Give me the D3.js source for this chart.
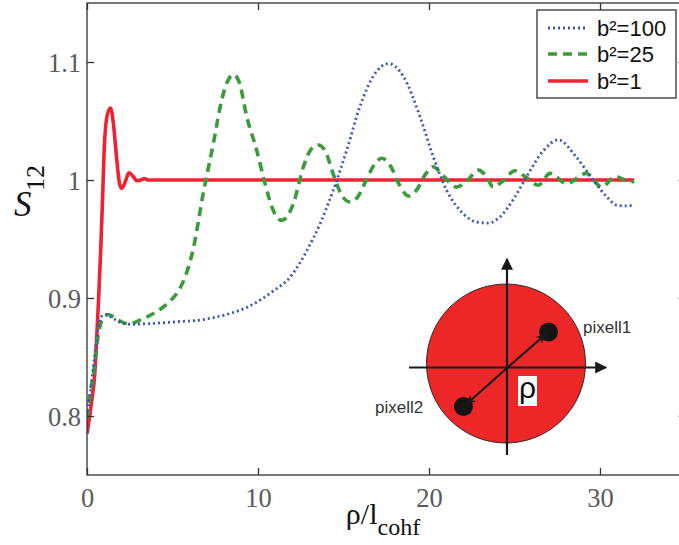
<!DOCTYPE html>
<html><head><meta charset="utf-8">
<script src="https://cdn.jsdelivr.net/npm/d3@7"></script>
<style>body{margin:0;background:#fff}svg{display:block}</style>
</head><body>
<svg id="chart" width="679" height="545"></svg>
<script>
// ---- data ----
const seriesNames = ["b\u00B2=100", "b\u00B2=25", "b\u00B2=1"];
const xTicks = [0, 10, 20, 30];
const yTicks = [0.8, 0.9, 1, 1.1];
const yTickLabels = ["0.8", "0.9", "1", "1.1"];

const rhoB100 = [0,0.18,0.4,0.66,0.9,1.1,1.5,2.0,2.6,3.9,5.34,6.7,7.39,8.4,9.34,10.1,10.9,11.87,12.85,13.63,14.4,15.19,15.96,16.74,17.62,18.5,19.47,20.25,21.03,22.0,22.8,23.47,24.1,25.0,25.7,26.7,27.56,28.6,29.6,30.4,31.0,31.5,32];
const sB100 = [0.80,0.818,0.845,0.875,0.885,0.886,0.883,0.879,0.8777,0.8785,0.880,0.8815,0.8834,0.887,0.892,0.898,0.906,0.9175,0.940,0.963,0.9913,1.0254,1.0623,1.0879,1.0987,1.0879,1.0538,1.0197,0.9913,0.9715,0.9643,0.9635,0.968,0.985,1.0027,1.025,1.034,1.0197,1.0,0.9856,0.9786,0.978,0.979];

const rhoB25 = [0,0.18,0.47,0.66,0.86,1.25,1.74,2.42,3.2,3.98,4.75,5.34,5.73,6.22,6.8,7.39,7.88,8.2,8.56,8.9,9.34,9.92,10.41,10.9,11.38,11.7,12.07,12.65,13.1,13.53,13.95,14.4,14.9,15.38,15.8,16.3,16.8,17.23,17.7,18.3,18.8,19.3,19.8,20.25,20.8,21.6,22.2,22.9,23.35,23.76,24.3,25.03,25.7,26.4,27.08,28.05,29.2,30.1,30.9,31.75,32];
const sB25 = [0.798,0.818,0.846,0.869,0.8805,0.886,0.882,0.878,0.882,0.8876,0.896,0.906,0.9175,0.942,0.989,1.031,1.068,1.083,1.0894,1.083,1.0538,1.0254,0.997,0.974,0.9658,0.969,0.980,1.011,1.026,1.0297,1.024,1.005,0.987,0.9814,0.985,0.999,1.013,1.0184,1.013,0.995,0.9865,0.992,1.005,1.0112,1.004,0.994,0.999,1.0084,1.003,0.994,0.999,1.0078,1.002,0.9956,1.0056,0.997,1.0056,0.994,1.003,0.9984,0.999];

const rhoB1 = [0,0.25,0.45,0.58,0.68,0.8,0.9,1.02,1.2,1.38,1.55,1.73,1.9,2.02,2.2,2.45,2.7,2.9,3.15,3.35,3.6,32];
const sB1 = [0.785,0.81,0.835,0.87,0.9,0.94,0.98,1.03,1.056,1.061,1.047,1.019,0.997,0.993,0.997,1.006,1.003,0.9995,1.0,1.0012,1.0,1.0];

// ---- layout ----
const svg = d3.select("#chart");
const L = 87, R = 685.5, T = 3, B = 475;
const x = d3.scaleLinear().domain([0, 35]).range([L, R]);
const y = d3.scaleLinear().domain([0.75, 1.15]).range([B, T]);

const colors = ["#3857bb", "#3b9a3b", "#ee2233"];
const dashes = ["2,3", "9,6", null];
const widths = [2.8, 3.6, 3.6];

const line = d3.line().x(d => x(d[0])).y(d => y(d[1])).curve(d3.curveMonotoneX);
const series = [
  d3.zip(rhoB100, sB100),
  d3.zip(rhoB25, sB25),
  d3.zip(rhoB1, sB1)
];

const plot = svg.append("g");
plot.append("defs").append("clipPath").attr("id","clip")
  .append("rect").attr("x",L).attr("y",T).attr("width",R-L).attr("height",B-T);
const curves = plot.append("g").attr("clip-path","url(#clip)");
[2,1,0].forEach(i => {
  curves.append("path").datum(series[i])
    .attr("d", line).attr("fill","none")
    .attr("stroke", colors[i]).attr("stroke-width", widths[i])
    .attr("stroke-dasharray", dashes[i])
    .attr("stroke-linejoin","round");
});

// frame
const axisColor = "#333";
svg.append("rect").attr("x",L).attr("y",T).attr("width",R-L).attr("height",B-T)
  .attr("fill","none").attr("stroke",axisColor).attr("stroke-width",1.3);

// axes with inward ticks
const xb = svg.append("g").attr("transform",`translate(0,${B})`)
  .call(d3.axisBottom(x).tickValues(xTicks).tickSizeInner(-7).tickSizeOuter(0).tickFormat(d3.format("d")));
const xt = svg.append("g").attr("transform",`translate(0,${T})`)
  .call(d3.axisTop(x).tickValues(xTicks).tickSizeInner(-7).tickSizeOuter(0).tickFormat(""));
const yl = svg.append("g").attr("transform",`translate(${L},0)`)
  .call(d3.axisLeft(y).tickValues(yTicks).tickSizeInner(-7).tickSizeOuter(0).tickFormat((d,i)=>yTickLabels[i]));
const yr = svg.append("g").attr("transform",`translate(${R},0)`)
  .call(d3.axisRight(y).tickValues(yTicks).tickSizeInner(-7).tickSizeOuter(0).tickFormat(""));
[xb,xt,yl,yr].forEach(g => {
  g.select(".domain").remove();
  g.selectAll(".tick line").attr("stroke",axisColor).attr("stroke-width",1.3);
  g.selectAll(".tick text").attr("fill","#5a5a5a")
    .style("font-family","'Liberation Serif','Times New Roman',serif").style("font-size","26.5px");
});
xb.selectAll(".tick text").attr("y", 13).attr("dy","0.71em");
yl.selectAll(".tick text").attr("x", -6).attr("dy","0.34em");

// axis labels
const xl = svg.append("text").attr("x", 383).attr("y", 524)
  .attr("text-anchor","middle").attr("fill","#111")
  .style("font-family","'Liberation Serif','Times New Roman',serif").style("font-size","30px");
xl.append("tspan").text("\u03C1/l");
xl.append("tspan").text("cohf").style("font-size","24px").attr("dy", 11);

// y label: upright italic S with rotated subscript
svg.append("text").attr("x", 14).attr("y", 216).text("S").attr("fill","#111")
  .style("font-family","'Liberation Serif','Times New Roman',serif")
  .style("font-style","italic").style("font-size","35px");
svg.append("text").attr("transform","translate(44,178) rotate(-90)")
  .attr("text-anchor","middle").text("12").attr("fill","#111")
  .style("font-family","'Liberation Serif','Times New Roman',serif").style("font-size","26px");

// legend
const lg = svg.append("g");
lg.append("rect").attr("x",537).attr("y",10).attr("width",139).attr("height",88)
  .attr("fill","#fff").attr("stroke",axisColor).attr("stroke-width",1.3);
const rowsY = [28, 54, 81];
seriesNames.forEach((n,i) => {
  lg.append("line").attr("x1",548).attr("x2",588).attr("y1",rowsY[i]).attr("y2",rowsY[i])
    .attr("stroke",colors[i]).attr("stroke-width",widths[i]).attr("stroke-dasharray",dashes[i]);
  lg.append("text").attr("x",597).attr("y",rowsY[i]+8).text(n).attr("fill","#111")
    .style("font-family","'Liberation Sans',Arial,sans-serif").style("font-size","22px");
});

// inset diagram
const ins = svg.append("g");
const defs = svg.append("defs");
defs.append("marker").attr("id","tri").attr("viewBox","0 0 10 10").attr("refX",9).attr("refY",5)
  .attr("markerWidth",14).attr("markerHeight",12).attr("markerUnits","userSpaceOnUse").attr("orient","auto")
  .append("path").attr("d","M0,0 L10,5 L0,10 Z").attr("fill","#1a1a1a");
defs.append("marker").attr("id","vee").attr("viewBox","0 0 10 10").attr("refX",9).attr("refY",5)
  .attr("markerWidth",11).attr("markerHeight",11).attr("markerUnits","userSpaceOnUse").attr("orient","auto")
  .append("path").attr("d","M0,1 L10,5 L0,9 L3,5 Z").attr("fill","#1a1a1a");

ins.append("circle").attr("cx",506).attr("cy",363.5).attr("r",79.5)
  .attr("fill","#ed2728").attr("stroke","#2a2a2a").attr("stroke-width",1);
ins.append("line").attr("x1",507).attr("y1",455).attr("x2",507).attr("y2",259)
  .attr("stroke","#1a1a1a").attr("stroke-width",2.2).attr("marker-end","url(#tri)");
ins.append("line").attr("x1",409).attr("y1",367.5).attr("x2",606).attr("y2",367.5)
  .attr("stroke","#1a1a1a").attr("stroke-width",2.2).attr("marker-end","url(#tri)");
ins.append("circle").attr("cx",548.5).attr("cy",332).attr("r",9.5).attr("fill","#141414");
ins.append("circle").attr("cx",463.5).attr("cy",406.5).attr("r",9.5).attr("fill","#141414");
ins.append("line").attr("x1",507).attr("y1",368).attr("x2",546).attr("y2",334)
  .attr("stroke","#1a1a1a").attr("stroke-width",2.2).attr("marker-end","url(#vee)");
ins.append("line").attr("x1",507).attr("y1",368).attr("x2",466).attr("y2",404.5)
  .attr("stroke","#1a1a1a").attr("stroke-width",2.2).attr("marker-end","url(#vee)");
ins.append("rect").attr("x",518).attr("y",376).attr("width",19).attr("height",30).attr("fill","#fff");
ins.append("text").attr("x",527.5).attr("y",398).attr("text-anchor","middle").text("\u03C1")
  .attr("fill","#111").style("font-family","'Liberation Sans',Arial,sans-serif").style("font-size","30px");
ins.append("text").attr("x",583).attr("y",333).text("pixell1").attr("fill","#333")
  .style("font-family","'Liberation Sans',Arial,sans-serif").style("font-size","17px");
ins.append("text").attr("x",375).attr("y",413).text("pixell2").attr("fill","#333")
  .style("font-family","'Liberation Sans',Arial,sans-serif").style("font-size","17px");
</script>
</body></html>
